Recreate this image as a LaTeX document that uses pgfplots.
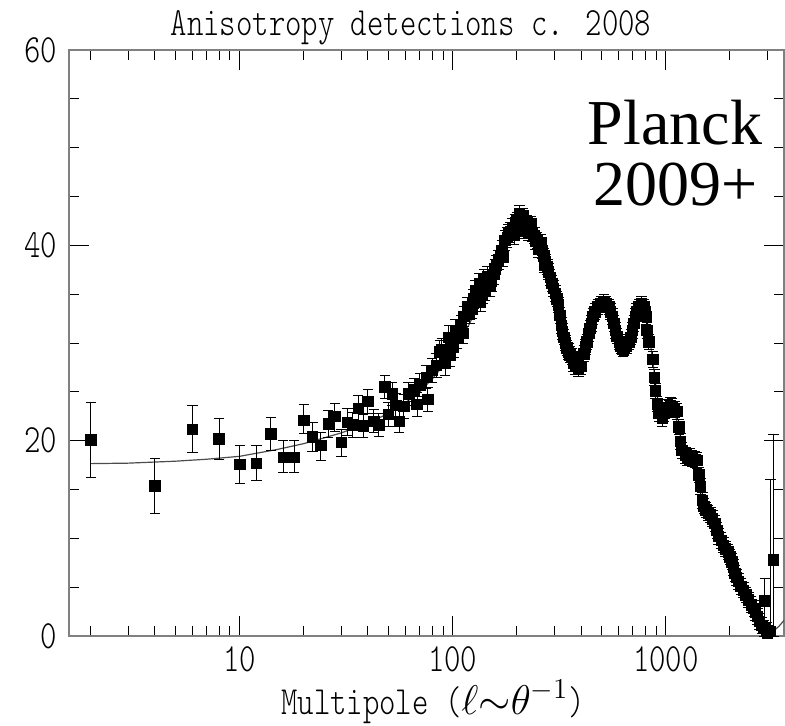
\documentclass[border=0pt]{standalone}
\usepackage{fontspec}
\usepackage{pgfplots}
\usepackage{pgfplotstable}
\pgfplotsset{compat=1.18}
\newfontfamily\hershey{lmmonolt10-regular.otf}[FakeStretch=0.78]
\newfontfamily\timesfont{Liberation Serif}

% low multipoles, asymmetric errors
\pgfplotstableread{
l v ep em
2 20.07 3.8 3.8
4 15.36 2.8 2.8
6 21.16 2.4 2.4
8 20.17 2.1 2.1
10 17.58 1.95 1.95
12 17.7 1.8 1.8
14 20.7 1.7 1.7
16 18.3 1.7 1.6
18 18.3 1.7 1.6
20 22.1 1.6 1.4
22 20.4 1.5 1.5
24 19.5 1.3 1.5
26 21.7 1.4 1.4
28 22.5 1.3 1.6
30 19.8 1.3 1.4
32 21.9 1.4 1.4
34 21.6 1.3 1.3
36 23.3 1.3 1.3
2920 3.6 2.3 3.6
3100 0.5 15.5 0.5
3210 7.8 12.8 7.8
}\lowl

% the dense band
\pgfplotstableread{
l v e
38 21.5 1.2
40 24.0 1.2
42.6 22.0 1.2
45 21.6 1.2
48 25.5 1.2
50 22.7 1.2
52 24.8 1.2
54 23.6 1.2
56 22.0 1.2
59 23.5 1.2
62 24.8 1.2
66 25.2 1.2
68 23.7 1.2
70 25.7 1.2
75 26.5 1.2
76.5 24.2 1.2
80 27.2 1.2
84 27.7 1.2
87 29.1 1.2
89 29.3 1.2
92 27.9 1.2
96 30.6 1.2
97 28.8 1.2
101 29.6 1.1
103 31.3 1.1
105 30.5 1.1
110 31.8 1.0
112 31.0 1.0
113 32.7 1.0
117 33.7 1.0
120 33.0 1.0
123 33.5 1.0
125 34.5 1.0
128 35.4 1.0
130 34.8 1.0
133 36.1 1.0
135 34.2 1.0
138 35.0 1.0
140 36.5 1.0
142 35.4 1.0
145 36.8 1.0
148 36.5 1.0
150 35.8 1.0
152 36.3 1.0
156 37.0 1.0
158 37.6 1.0
160 38.0 1.0
164 38.5 1.0
168 38.8 1.0
170 39.5 1.0
172 38.8 1.0
176 40.5 1.0
180 40.8 1.0
183 41.2 0.9
186 41.4 0.9
190 41.8 0.9
194 41.0 0.9
197 42.3 0.9
200 42.5 0.9
203 42.0 0.9
206 43.3 0.8
210 42.8 0.8
213 43.0 0.8
215 41.7 0.8
218 41.5 0.8
220 42.0 0.8
223 42.3 0.8
226 41.3 0.8
230 41.8 0.8
233 42.2 0.8
236 41.2 0.8
242 41.0 0.8
245 40.4 0.8
249 40.5 0.8
252 39.6 0.8
256 40.0 0.8
260 40.3 0.8
263 39.5 0.8
268 38.9 0.8
270 38.0 0.8
273 38.3 0.8
278 37.8 0.8
282 37.3 0.8
287 36.7 0.8
292 36.1 0.8
297 35.6 0.8
303 35.1 0.8
308 34.5 0.8
314 33.9 0.8
319 32.8 0.8
324 31.8 0.8
328 31.2 0.8
332 30.6 0.8
338 30.0 0.8
343 29.5 0.8
350 29.1 0.8
355 28.8 0.8
362 28.6 0.8
368 27.9 0.8
377 27.6 0.8
390 27.4 0.8
400 27.6 0.8
412 28.9 0.8
420 29.6 0.8
426 30.1 0.8
435 31.0 0.8
441 31.5 0.8
448 32.0 0.8
455 32.7 0.8
465 33.2 0.8
481 33.7 0.8
495 34.0 0.8
512 34.2 0.8
525 34.0 0.8
541 33.7 0.8
550 33.2 0.8
561 32.7 0.8
570 32.0 0.8
581 31.3 0.8
590 30.7 0.8
604 30.1 0.8
615 29.7 0.8
628 29.4 0.8
638 29.5 0.8
655 29.7 0.8
674 30.1 0.8
686 30.6 0.8
698 31.3 0.8
708 32.0 0.8
719 32.7 0.8
730 33.2 0.8
749 33.7 0.8
770 34.0 0.8
789 33.7 0.8
800 33.2 0.8
809 32.7 0.8
817 31.3 0.8
833 30.1 0.8
869 28.3 0.8
884 26.5 0.8
894 25.1 0.8
911 23.75 0.8
929 22.8 0.8
961 22.3 0.8
980 22.8 0.8
1010 23.4 0.8
1032 23.3 0.8
1050 23.6 0.8
1072 23.5 0.8
1100 23.2 0.8
1130 23.0 0.8
1150 21.4 0.8
1170 19.9 0.8
1190 19.0 0.8
1235 18.5 0.8
1260 18.3 0.8
1290 18.4 0.8
1329 18.2 0.8
1370 18.1 0.8
1405 18.0 0.8
1430 16.5 0.8
1455 15.3 0.8
1485 13.9 0.8
1510 13.3 0.8
1540 12.9 0.8
1580 12.6 0.8
1620 12.4 0.8
1660 12.0 0.8
1700 11.5 0.8
1735 10.8 0.8
1770 10.2 0.8
1820 9.8 0.8
1865 9.3 0.8
1910 8.9 0.8
1965 8.6 0.8
2000 8.1 0.8
2040 7.6 0.8
2080 7.0 0.8
2115 6.4 0.8
2150 6.0 0.8
2190 5.6 0.8
2250 5.1 0.8
2320 4.7 0.8
2380 4.2 0.8
2450 3.7 0.8
2520 3.2 0.8
2590 2.8 0.8
2640 2.4 0.8
2690 2.0 0.8
2750 1.5 0.8
2820 1.1 0.8
2890 0.8 0.8
2970 0.6 0.8
3000 0.3 0.8
}\band

% model curve
\pgfplotstableread{
l v
2 17.65
3 17.7
5 17.9
7 18.1
10 18.4
15 19.1
20 19.7
25 20.3
30 20.8
40 21.8
50 22.8
60 23.9
70 25.0
80 26.3
100 28.9
120 32.0
150 36.5
180 40.5
200 42.0
220 42.4
240 41.5
260 39.7
290 36.3
320 32.5
350 29.2
380 27.6
410 28.3
440 30.5
480 33.3
520 34.2
560 33.0
600 30.6
650 29.4
700 30.5
750 33.0
790 33.6
830 31.5
870 28.0
920 24.0
980 22.4
1050 23.4
1100 23.0
1200 19.5
1300 18.3
1400 17.5
1500 14.0
1600 12.6
1800 9.8
2000 8.0
2200 5.6
2500 3.3
2800 1.5
3000 0.7
3200 0.5
3400 1.0
3590 1.6
}\model

\begin{document}
\begin{tikzpicture}
\begin{axis}[
    at={(0,0)}, anchor=south west,
    width=357.5pt, height=293pt, scale only axis,
    xmode=log, xmin=1.58, xmax=3590,
    ymin=0, ymax=60,
    xtick={10,100,1000}, xticklabels={10,100,1000},
    minor xtick={2,3,4,5,6,7,8,9,20,30,40,50,60,70,80,90,200,300,400,500,600,700,800,900,2000,3000},
    ytick={0,20,40,60},
    minor ytick={5,10,15,25,30,35,45,50,55},
    tick align=inside,
    major tick length=10pt, minor tick length=5pt,
    tick style={black, line width=0.5pt},
    axis line style={draw=gray, line width=0.7pt},
    tick label style={
        font=\hershey\fontsize{20}{24}\selectfont,
        /pgf/number format/assume math mode=true
    },
    xticklabel style={yshift=-2pt},
    yticklabel style={xshift=-2.3pt},
]
\addplot[line width=0.6pt, black!70] table[x=l, y=v] {\model};

\addplot[only marks, mark=square*, mark size=2.6pt, black,
    error bars/.cd, y dir=both, y explicit,
    error bar style={line width=0.5pt, black},
    error mark options={rotate=90, mark size=2.6pt, line width=0.5pt, black}]
    table[x=l, y=v, y error plus=ep, y error minus=em] {\lowl};

\addplot[only marks, mark=square*, mark size=2.6pt, black,
    error bars/.cd, y dir=both, y explicit,
    error bar style={line width=0.5pt, black},
    error mark options={rotate=90, mark size=2.6pt, line width=0.5pt, black}]
    table[x=l, y=v, y error=e] {\band};

\node[anchor=base, font=\timesfont\fontsize{32}{36}\selectfont]
    at (rel axis cs:0.8476,0.8379) {Planck};
\node[anchor=base, font=\timesfont\fontsize{32}{36}\selectfont]
    at (rel axis cs:0.8476,0.7355) {2009+};
\end{axis}
% title and axis label sit outside the clipped axis area
\node[anchor=base, font=\hershey\fontsize{20}{24}\selectfont]
    at (171pt,300.5pt) {Anisotropy detections c. 2008};
\node[anchor=base, font=\hershey\fontsize{20}{24}\selectfont]
    at (182pt,-39pt) {Multipole ($\ell{\sim}\theta^{-1}$)};
\pgfresetboundingbox
\path (-34.5pt,-44.5pt) rectangle (358pt,318pt);
\end{tikzpicture}
\end{document}
